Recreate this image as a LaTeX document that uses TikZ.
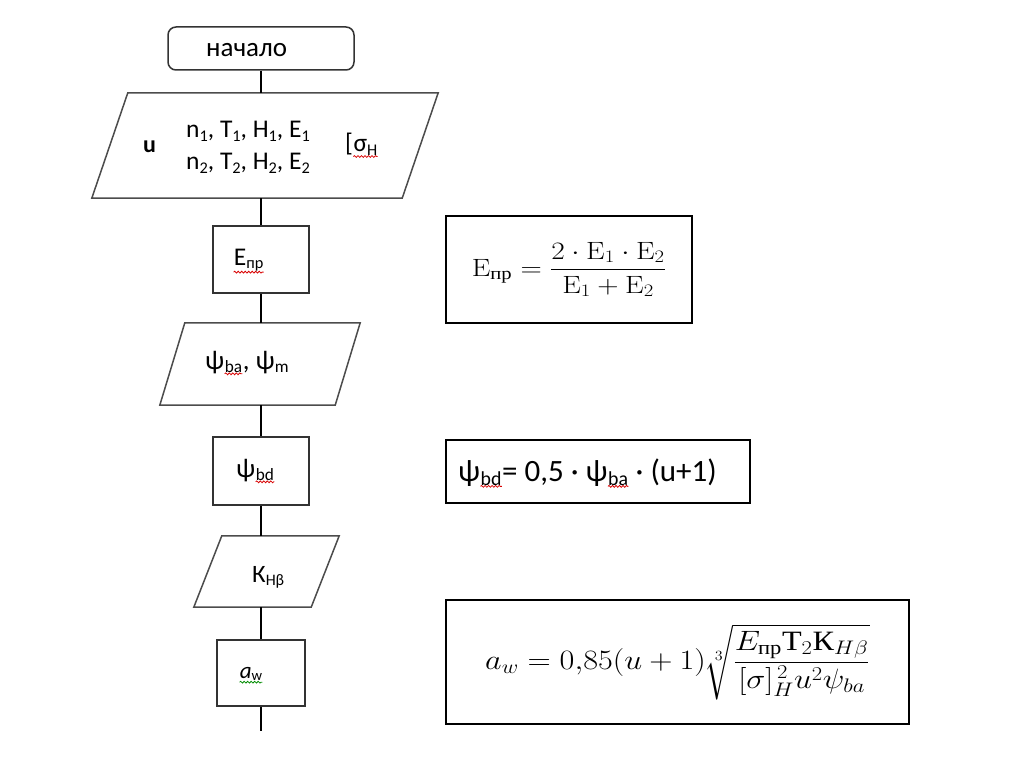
\RequirePackage{fix-cm}
\documentclass[tikz,border=0pt]{standalone}
\usepackage{amsmath}
\usepackage[no-math]{fontspec}
\setmainfont{Carlito}
\newfontfamily\cyrserif{Liberation Serif}
\usetikzlibrary{decorations.pathmorphing}
\newcommand{\sub}[1]{\raisebox{-0.13em}{\scalebox{0.64}{#1}}}
\newcommand{\cyr}[1]{\text{\cyrserif #1}}
\newcommand{\spell}[2][red!85!black]{\tikz[baseline=(w.base)]{\node[inner sep=0pt, text width={}] (w) {#2};
  \draw[spell, draw=#1] ([yshift=-1pt]w.south west) -- ([yshift=-1pt]w.south east);}}
\newcommand{\slantbox}[2]{\draw[slant] ([xshift=#2]#1.north west) -- ([xshift=#2]#1.north east)
  -- ([xshift=-#2]#1.south east) -- ([xshift=-#2]#1.south west) -- cycle;}
\tikzset{
  block/.style={draw=black!80, line width=1.5pt, inner sep=0pt},
  inout/.style={rectangle, inner sep=0pt},
  slant/.style={draw=black!70, line width=1.5pt},
  formula/.style={draw=black, line width=1.5pt, inner sep=0pt},
  txt/.style={font=\fontsize{25.5}{30}\selectfont, inner sep=0pt},
  spell/.style={line width=0.8pt, decorate, decoration={snake, amplitude=0.9pt, segment length=3.5pt}},
  link/.style={line width=1.5pt}
}
\begin{document}
\begin{tikzpicture}[x=1pt,y=-1pt]
    \useasboundingbox[fill=white] (0,0) rectangle (1024,767);
    % Начало
    \node[block, rounded corners=8pt, minimum width=186pt, minimum height=43pt] (start) at (261,48.5) {};
    \node[txt, font=\fontsize{27}{30}\selectfont, anchor=base west] (startlbl) at (206,57) {начало};
    % Ввод исходных данных
    \node[inout, minimum width=310pt, minimum height=105pt] (in1) at (265,145.5) {};
    \slantbox{in1}{18pt}
    \node[txt, font=\fontsize{24}{30}\bfseries, anchor=base west] (uval) at (143,153) {u};
    \node[txt, anchor=base west] (nfirst) at (186,138) {n\sub{1}, T\sub{1}, H\sub{1}, E\sub{1}};
    \node[txt, anchor=base west] (nsecond) at (186,170) {n\sub{2}, T\sub{2}, H\sub{2}, E\sub{2}};
    \node[txt, anchor=base west] (sigmah) at (345,152) {[\spell{σ\sub{H}}};
    % Приведённый модуль
    \node[block, minimum width=96pt, minimum height=67pt] (epr) at (261,259.5) {};
    \node[txt, anchor=base west] (eprlbl) at (233,265) {\spell{E\sub{пр}}};
    % Ввод коэффициентов ширины
    \node[inout, minimum width=175pt, minimum height=82pt] (in2) at (260,364) {};
    \slantbox{in2}{12.5pt}
    \node[txt, font=\fontsize{27}{30}\selectfont, anchor=base west] (psilbl) at (205,369) {ψ\spell{\sub{ba}}, ψ\sub{m}};
    % Коэффициент ψbd
    \node[block, minimum width=96pt, minimum height=68pt] (psibd) at (261,471) {};
    \node[txt, font=\fontsize{27}{30}\selectfont, anchor=base west] (psibdlbl) at (236,477) {ψ\spell{\sub{bd}}};
    % Ввод KHβ
    \node[inout, minimum width=117pt, minimum height=71pt] (in3) at (266.5,571.5) {};
    \slantbox{in3}{14pt}
    \node[txt, font=\fontsize{25}{30}\selectfont, anchor=base west] (khblbl) at (252,582) {К\sub{Hβ}};
    % Межосевое расстояние
    \node[block, minimum width=88pt, minimum height=66pt] (aw) at (261,673) {};
    \node[txt, font=\fontsize{23}{30}\selectfont, anchor=base west] (awlbl) at (239,678) {\spell[green!55!black]{\textit{a}\sub{w}}};
    \coordinate (stop) at (261,731);
    % Связи
    \draw[link] (start.south) -- (start.south |- in1.north);
    \draw[link] (in1.south -| epr.north) -- (epr.north);
    \draw[link] (epr.south) -- (epr.south |- in2.north);
    \draw[link] (in2.south -| psibd.north) -- (psibd.north);
    \draw[link] (psibd.south) -- (psibd.south |- in3.north);
    \draw[link] (in3.south -| aw.north) -- (aw.north);
    \draw[link] (aw.south) -- (stop);
    % Формулы
    \node[formula, minimum width=246pt, minimum height=107pt, font=\fontsize{25}{30}\selectfont] (eprf) at (569,269.5)
      {\scalebox{1.18}[1]{$\mathrm{E}_{\cyr{пр}} = \dfrac{2\cdot\mathrm{E}_1\cdot\mathrm{E}_2}{\mathrm{E}_1+\mathrm{E}_2}$}};
    \node[formula, minimum width=304pt, minimum height=63pt] (psif) at (598,471.5) {};
    \node[txt, font=\fontsize{31}{34}\selectfont, anchor=base west] (psiflbl) at (458,481)
      {ψ\spell{\sub{bd}}= 0,5 · ψ\spell{\sub{ba}} · (u+1)};
    \node[formula, minimum width=463pt, minimum height=124pt, font=\fontsize{28}{30}\selectfont] (awf) at (677.5,662)
      {\scalebox{1.15}[1]{$a_w = 0{,}85(u+1)\sqrt[3]{\dfrac{E_{\cyr{пр}}\cyr{Т}_2\cyr{К}_{H\beta}}{[\sigma]_H^{\,2}u^2\psi_{ba}}}$}};
\end{tikzpicture}
\end{document}
